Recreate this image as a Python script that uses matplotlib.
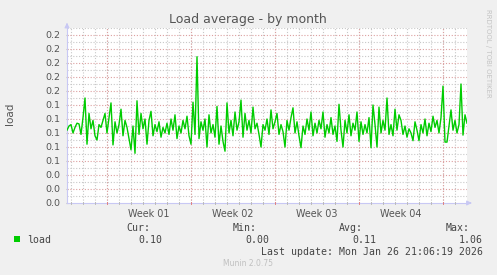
import matplotlib
matplotlib.use("Agg")
import matplotlib.pyplot as plt
from matplotlib.patches import Rectangle
import numpy as np

# ---- data ----
load_values = [
    0.104, 0.110, 0.112, 0.100, 0.108, 0.114, 0.113, 0.098, 0.122, 0.150,
    0.084, 0.128, 0.106, 0.118, 0.096, 0.090, 0.112, 0.108, 0.118, 0.128,
    0.100, 0.122, 0.143, 0.083, 0.116, 0.100, 0.112, 0.134, 0.096, 0.118,
    0.108, 0.092, 0.076, 0.110, 0.071, 0.146, 0.098, 0.128, 0.106, 0.120,
    0.084, 0.118, 0.131, 0.096, 0.112, 0.102, 0.116, 0.094, 0.108, 0.100,
    0.114, 0.098, 0.120, 0.104, 0.126, 0.092, 0.110, 0.100, 0.118, 0.106,
    0.124, 0.096, 0.084, 0.144, 0.098, 0.209, 0.092, 0.116, 0.104, 0.120,
    0.080, 0.126, 0.100, 0.112, 0.094, 0.138, 0.084, 0.110, 0.088, 0.074,
    0.143, 0.100, 0.118, 0.096, 0.130, 0.104, 0.116, 0.147, 0.094, 0.128,
    0.104, 0.118, 0.100, 0.137, 0.106, 0.114, 0.098, 0.080, 0.112, 0.104,
    0.120, 0.098, 0.133, 0.106, 0.116, 0.128, 0.098, 0.112, 0.102, 0.080,
    0.118, 0.104, 0.122, 0.136, 0.100, 0.116, 0.096, 0.079, 0.110, 0.098,
    0.120, 0.104, 0.130, 0.096, 0.114, 0.100, 0.118, 0.106, 0.130, 0.094,
    0.112, 0.100, 0.122, 0.098, 0.110, 0.088, 0.141, 0.104, 0.080, 0.118,
    0.100, 0.126, 0.096, 0.114, 0.104, 0.130, 0.088, 0.116, 0.098, 0.112,
    0.100, 0.122, 0.079, 0.140, 0.112, 0.080, 0.137, 0.100, 0.118, 0.104,
    0.150, 0.098, 0.112, 0.096, 0.134, 0.104, 0.126, 0.118, 0.098, 0.110,
    0.094, 0.106, 0.100, 0.089, 0.116, 0.104, 0.089, 0.112, 0.100, 0.120,
    0.096, 0.114, 0.102, 0.124, 0.108, 0.118, 0.100, 0.122, 0.167, 0.087,
    0.087, 0.110, 0.133, 0.104, 0.118, 0.100, 0.112, 0.170, 0.097, 0.126,
    0.114,
]
span_days = 33.333               # width of the month graph in days
week_starts = [3.333, 10.333, 17.333, 24.333, 31.333]
week_labels = ["Week 01", "Week 02", "Week 03", "Week 04"]
y_max = 0.25

legend_name = "load"
stat_headers = ["Cur:", "Min:", "Avg:", "Max:"]
stat_values = ["0.10", "0.00", "0.11", "1.06"]
last_update = "Last update: Mon Jan 26 21:06:19 2026"
title = "Load average - by month"
ylabel = "load"
side_text = "RRDTOOL / TOBI OETIKER"
footer = "Munin 2.0.75"

# ---- figure ----
W, H = 497, 275
fig = plt.figure(figsize=(W / 100, H / 100), dpi=100, facecolor="#F0F0F0")

def fx(px):
    return px / W

def fy(py):
    return 1 - py / H

left, right, top, bottom = 67, 467, 28, 203
ax = fig.add_axes([fx(left), fy(bottom), fx(right) - fx(left), fy(top) - fy(bottom)])
ax.set_facecolor("white")

t = np.linspace(0, span_days, len(load_values))
ax.plot(t, load_values, color="#00CC00", lw=1.0, zorder=3)

ax.set_xlim(0, span_days)
ax.set_ylim(0, y_max)

dots = (0, (1, 1.6))
minor_col = "#c8c8c8"
major_col = "#dca0a0"
# minor grid
for d in np.arange(week_starts[0] - 3, span_days, 1.0):
    if d > 0.01:
        ax.axvline(d, color=minor_col, lw=0.8, ls=dots, zorder=1)
for yv in np.arange(0.01, y_max + 0.001, 0.02):
    ax.axhline(yv, color=minor_col, lw=0.8, ls=dots, zorder=1)
# major grid
for d in week_starts:
    ax.axvline(d, color=major_col, lw=0.8, ls=dots, zorder=2)
for yv in np.arange(0.02, y_max, 0.02):
    ax.axhline(yv, color=major_col, lw=0.8, ls=dots, zorder=2)

for s in ["top", "right"]:
    ax.spines[s].set_visible(False)
axis_col = "#c8c8f4"
ax.spines["left"].set_color(axis_col)
ax.spines["bottom"].set_color(axis_col)

yt = np.arange(0, 0.2401, 0.02)
ax.set_yticks(yt)
ax.set_yticklabels([f"{v:.1f}" for v in yt], fontsize=6.8, color="#555555")
ax.tick_params(axis="y", length=2, color="#bbbbbb", pad=4, direction="inout")

mids = [(week_starts[i] + week_starts[i + 1]) / 2 for i in range(4)]
ax.set_xticks(mids)
ax.set_xticklabels(week_labels, fontsize=6.9, color="#555555")
ax.tick_params(axis="x", length=0, pad=4)
# small tick marks on x axis
for d in np.arange(week_starts[0] - 3, span_days, 1.0):
    col = "#e08080" if any(abs(d - w) < 0.01 for w in week_starts) else "#bbbbbb"
    ax.plot([d, d], [-0.002, 0.002], color=col, lw=0.7, clip_on=False, zorder=4)

# arrows
ax.annotate("", xy=(0, 1.03), xytext=(0, 1.0), xycoords="axes fraction",
            arrowprops=dict(arrowstyle="-|>", color=axis_col, lw=0.8, mutation_scale=7),
            annotation_clip=False)
ax.annotate("", xy=(1.012, 0), xytext=(1.0, 0), xycoords="axes fraction",
            arrowprops=dict(arrowstyle="-|>", color=axis_col, lw=0.8, mutation_scale=7),
            annotation_clip=False)

# texts
fig.text(fx(248), fy(19), title, ha="center", va="center", fontsize=9, color="#555555")
fig.text(fx(10), fy(114), ylabel, ha="center", va="center", rotation=90,
         fontsize=7.5, color="#555555")
fig.text(fx(488), fy(53), side_text, ha="center", va="center", rotation=-90,
         fontsize=5, color="#c4c4c4")

mono = "DejaVu Sans Mono"
hdr_right = [150, 257, 363, 470]
val_right = [162, 269, 376, 483]
for h, xr in zip(stat_headers, hdr_right):
    fig.text(fx(xr), fy(228), h, ha="right", va="center", family=mono,
             fontsize=7.1, color="#444444")
for v, xr in zip(stat_values, val_right):
    fig.text(fx(xr), fy(240), v, ha="right", va="center", family=mono,
             fontsize=7.1, color="#444444")
fig.patches.append(Rectangle((fx(14), fy(242)), fx(6), 6 / H, transform=fig.transFigure,
                             facecolor="#00CC00", edgecolor="none"))
fig.text(fx(27), fy(240), legend_name, ha="left", va="center", family=mono,
         fontsize=7.1, color="#444444")
fig.text(fx(483), fy(252), last_update, ha="right", va="center", family=mono,
         fontsize=7.1, color="#444444")
fig.text(fx(248), fy(264), footer, ha="center", va="center", fontsize=5.5, color="#c0c0c0")

fig.savefig("out.png", dpi=100, facecolor=fig.get_facecolor())
